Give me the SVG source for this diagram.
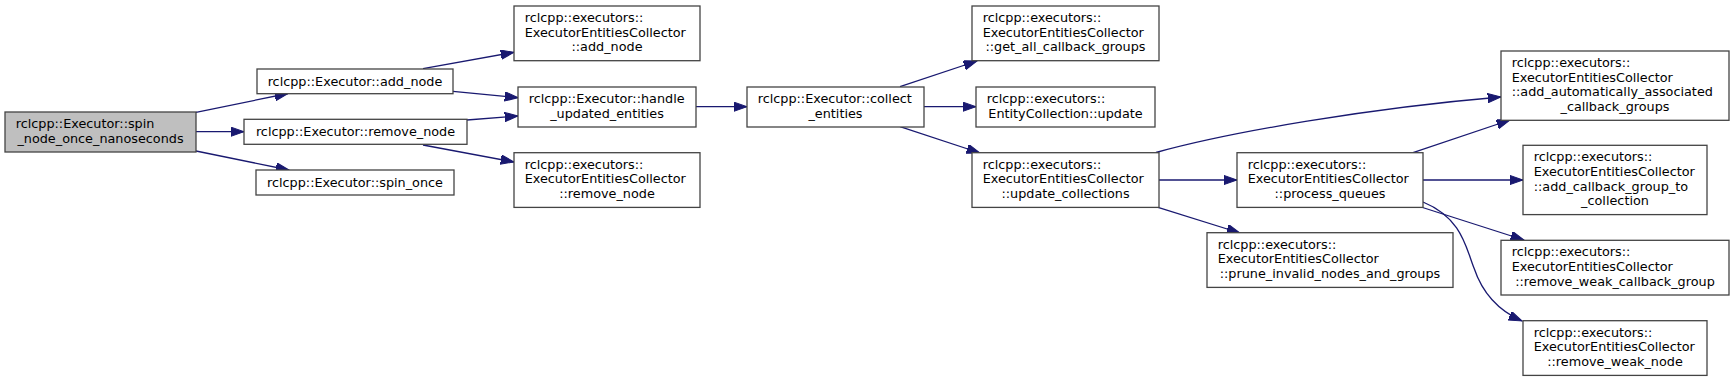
<svg xmlns="http://www.w3.org/2000/svg" width="1735" height="381" viewBox="0 0 1735 381">
<style>
rect{fill:#fff;stroke:#444;stroke-width:1.3}
rect.root{fill:#bfbfbf}
text{font-family:"DejaVu Sans",sans-serif;font-size:12.8px;fill:#000}
text.c{text-anchor:middle}
.e path{fill:none;stroke:#191970;stroke-width:1.3}
</style>
<defs>
<marker id="a" markerUnits="userSpaceOnUse" markerWidth="14" markerHeight="10" viewBox="0 0 14 10" refX="13.3" refY="4.67" orient="auto">
<path d="M0,0 L13.3,4.67 L0,9.33 z" fill="#191970" stroke="#191970" stroke-width="1"/>
</marker>
</defs>
<rect x="0" y="0" width="1735" height="381" style="fill:#fff;stroke:none"/>
<g class="e">
<path d="M196,112.3 L288,93.5" marker-end="url(#a)"/>
<path d="M196,131.7 L244,131.7" marker-end="url(#a)"/>
<path d="M196,151 L289,170" marker-end="url(#a)"/>
<path d="M423,68.7 L514,52.3" marker-end="url(#a)"/>
<path d="M453,91.3 L518,97.7" marker-end="url(#a)"/>
<path d="M467,120 L518,116" marker-end="url(#a)"/>
<path d="M423,145 L514,162" marker-end="url(#a)"/>
<path d="M696,106.7 L747,106.7" marker-end="url(#a)"/>
<path d="M900,86.7 L977,61" marker-end="url(#a)"/>
<path d="M924,106.7 L976,106.7" marker-end="url(#a)"/>
<path d="M900,126.7 L980,153" marker-end="url(#a)"/>
<path d="M1156,152.5 C1230,132 1370,108 1501,97" marker-end="url(#a)"/>
<path d="M1159,180 L1237,180" marker-end="url(#a)"/>
<path d="M1158,207.3 L1240,233" marker-end="url(#a)"/>
<path d="M1413,152.7 L1510,120" marker-end="url(#a)"/>
<path d="M1423,180 L1523,180" marker-end="url(#a)"/>
<path d="M1421,207 L1524,240" marker-end="url(#a)"/>
<path d="M1423,202 C1462,218 1466,248 1474,268 C1482,292 1497,310 1522,321" marker-end="url(#a)"/>
</g>
<g id="node0"><rect class="root" x="5" y="112" width="191" height="40"/>
<text x="15.7" y="128">rclcpp::Executor::spin</text><text class="c" x="100.5" y="142.7">_node_once_nanoseconds</text></g>
<g id="node1"><rect x="257" y="69" width="196" height="24.7"/>
<text class="c" x="355" y="86">rclcpp::Executor::add_node</text></g>
<g id="node2"><rect x="244" y="119.3" width="223" height="25"/>
<text class="c" x="355.5" y="136.3">rclcpp::Executor::remove_node</text></g>
<g id="node3"><rect x="256" y="170" width="198" height="25"/>
<text class="c" x="355" y="187">rclcpp::Executor::spin_once</text></g>
<g id="node4"><rect x="514" y="6" width="186" height="54.7"/>
<text x="524.7" y="22">rclcpp::executors::</text><text x="524.7" y="36.7">ExecutorEntitiesCollector</text><text class="c" x="607" y="51.3">::add_node</text></g>
<g id="node5"><rect x="518" y="87" width="178" height="40"/>
<text x="528.7" y="103">rclcpp::Executor::handle</text><text class="c" x="607" y="117.7">_updated_entities</text></g>
<g id="node6"><rect x="514" y="152.7" width="186" height="54.7"/>
<text x="524.7" y="168.7">rclcpp::executors::</text><text x="524.7" y="183.3">ExecutorEntitiesCollector</text><text class="c" x="607" y="198">::remove_node</text></g>
<g id="node7"><rect x="747" y="87" width="177" height="40"/>
<text x="757.7" y="103">rclcpp::Executor::collect</text><text class="c" x="835.5" y="117.7">_entities</text></g>
<g id="node8"><rect x="972" y="6" width="187" height="54.7"/>
<text x="982.7" y="22">rclcpp::executors::</text><text x="982.7" y="36.7">ExecutorEntitiesCollector</text><text class="c" x="1065.5" y="51.3">::get_all_callback_groups</text></g>
<g id="node9"><rect x="976" y="87" width="179" height="40"/>
<text x="986.7" y="103">rclcpp::executors::</text><text class="c" x="1065.5" y="117.7">EntityCollection::update</text></g>
<g id="node10"><rect x="972" y="152.7" width="187" height="54.7"/>
<text x="982.7" y="168.7">rclcpp::executors::</text><text x="982.7" y="183.3">ExecutorEntitiesCollector</text><text class="c" x="1065.5" y="198">::update_collections</text></g>
<g id="node11"><rect x="1237" y="152.7" width="186" height="54.7"/>
<text x="1247.7" y="168.7">rclcpp::executors::</text><text x="1247.7" y="183.3">ExecutorEntitiesCollector</text><text class="c" x="1330" y="198">::process_queues</text></g>
<g id="node12"><rect x="1207" y="232.7" width="246" height="54.7"/>
<text x="1217.7" y="248.7">rclcpp::executors::</text><text x="1217.7" y="263.3">ExecutorEntitiesCollector</text><text class="c" x="1330" y="278">::prune_invalid_nodes_and_groups</text></g>
<g id="node13"><rect x="1501" y="51" width="228" height="69.3"/>
<text x="1511.7" y="67">rclcpp::executors::</text><text x="1511.7" y="81.7">ExecutorEntitiesCollector</text><text x="1511.7" y="96.3">::add_automatically_associated</text><text class="c" x="1615" y="111">_callback_groups</text></g>
<g id="node14"><rect x="1523" y="145.3" width="184" height="69.3"/>
<text x="1533.7" y="161.3">rclcpp::executors::</text><text x="1533.7" y="176">ExecutorEntitiesCollector</text><text x="1533.7" y="190.7">::add_callback_group_to</text><text class="c" x="1615" y="205.3">_collection</text></g>
<g id="node15"><rect x="1501" y="240.3" width="228" height="54.7"/>
<text x="1511.7" y="256.3">rclcpp::executors::</text><text x="1511.7" y="271">ExecutorEntitiesCollector</text><text class="c" x="1615" y="285.7">::remove_weak_callback_group</text></g>
<g id="node16"><rect x="1523" y="320.7" width="184" height="54.7"/>
<text x="1533.7" y="336.7">rclcpp::executors::</text><text x="1533.7" y="351.3">ExecutorEntitiesCollector</text><text class="c" x="1615" y="366">::remove_weak_node</text></g>
</svg>
